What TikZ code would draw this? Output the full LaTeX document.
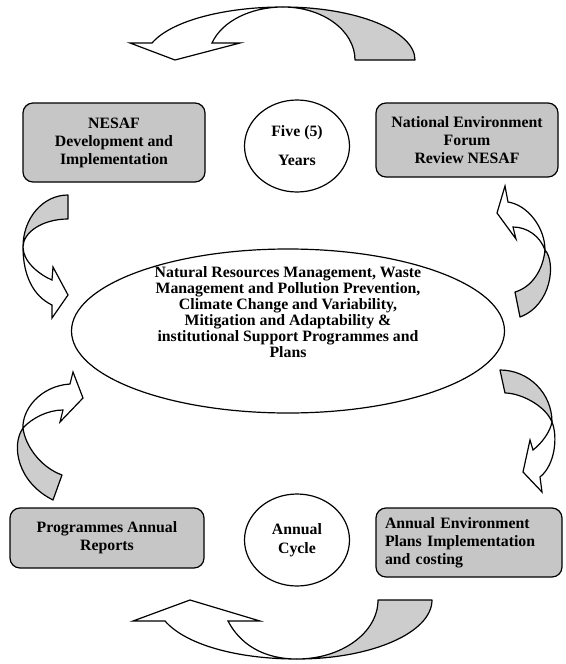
\documentclass[tikz,border=0pt]{standalone}
\usepackage{fontspec}
\setmainfont{Liberation Serif}
\usetikzlibrary{shapes.geometric}
\definecolor{boxfill}{RGB}{198,198,198}
\definecolor{ribbon}{RGB}{205,205,205}
\tikzset{
  outline/.style={draw=black, line width=1.2pt},
  stagebox/.style={outline, rounded corners=10pt, fill=boxfill, align=center,
    inner sep=0pt, font=\bfseries\fontsize{15.8}{18}\selectfont},
  period/.style={outline, ellipse, fill=white, align=center, inner sep=0pt,
    minimum width=105pt, minimum height=92pt,
    font=\bfseries\fontsize{15.8}{18}\selectfont},
  hub/.style={outline, ellipse, fill=white, inner sep=0pt,
    minimum width=433pt, minimum height=164pt},
  hubtext/.style={align=center, inner sep=0pt,
    font=\bfseries\fontsize{15.8}{16}\selectfont},
  ribbonback/.style={outline, fill=ribbon, line join=round},
  ribbonfront/.style={outline, fill=white, line join=miter},
}
\begin{document}
\begin{tikzpicture}[x=1pt, y=-1pt]
\useasboundingbox (0,0) rectangle (565,664);

% ---- curved arrows of the cycle ----
% top: from the review box back over to the development box
\path[ribbonback] (415,60) .. controls (415,30.7) and (355.9,7) .. (283,7)
  .. controls (322.8,7) and (355,30.7) .. (355,60) -- cycle;
\path[ribbonfront] (283,7) .. controls (226.6,7) and (172,20) .. (152,43)
  -- (130,43) -- (175,60) -- (240,43) -- (212,43)
  .. controls (222,21) and (251,7) .. (283,7) -- cycle;

% bottom: from the implementation box over to the reports box
\path[ribbonback] (378,600) -- (432,600) .. controls (432,632.6) and (371.6,659) .. (297,659)
  .. controls (341.7,659) and (378,632.6) .. (378,600) -- cycle;
\path[ribbonfront] (297,659) .. controls (238,659) and (186,645) .. (165,621)
  -- (133,621) -- (190,600) -- (260,621) -- (228,621)
  .. controls (240,644) and (263,659) .. (297,659) -- cycle;

% left, upper: development box down into the programmes
\path[ribbonback] (68,195) .. controls (43,195) and (23,218) .. (23,247)
  .. controls (23,232) and (43,219) .. (68,219) -- cycle;
\path[ribbonfront] (23,247) .. controls (23,275) and (33,296) .. (52,305)
  -- (52,318) -- (68,295) -- (53,267) -- (52,280)
  .. controls (40,275) and (23,262) .. (23,247) -- cycle;

% left, lower: reports up into the programmes
\path[ribbonback] (23,428) .. controls (11,445) and (17,482) .. (53,500)
  -- (62,475) .. controls (40,467) and (25,445) .. (23,428) -- cycle;
\path[ribbonfront] (23,428) .. controls (22,410) and (40,386) .. (70,384)
  -- (73,372) -- (83,398) -- (60,422) -- (63,410)
  .. controls (48,410) and (32,418) .. (23,428) -- cycle;

% right, upper: programmes up to the review box
\path[ribbonback] (545,250) .. controls (556,262) and (552,305) .. (520,317)
  -- (515,292) .. controls (532,287) and (543,270) .. (545,250) -- cycle;
\path[ribbonfront] (545,250) .. controls (545,228) and (528,205) .. (508,202)
  -- (505,186) -- (497,213) -- (516,239) -- (513,227)
  .. controls (527,227) and (540,236) .. (545,250) -- cycle;

% right, lower: programmes down to the annual plans
\path[ribbonback] (500,370) .. controls (528.7,370) and (552,393.3) .. (552,422)
  .. controls (545,405) and (520,393) .. (505,393) -- cycle;
\path[ribbonfront] (552,422) .. controls (558,437) and (555,465) .. (540,477)
  -- (542,492) -- (523,472) -- (530,440) -- (533,450)
  .. controls (542,443) and (550,432) .. (552,422) -- cycle;

% ---- stages ----
\node[stagebox, minimum width=182pt, minimum height=79pt] (nesaf) at (114,142.5)
  {NESAF\\Development and\\Implementation};
\node[stagebox, minimum width=182pt, minimum height=74pt] (forum) at (467,140)
  {National Environment\\Forum\\Review NESAF};
\node[stagebox, minimum width=194pt, minimum height=60pt] (reports) at (107,538)
  {Programmes Annual\\Reports};
\node[stagebox, minimum width=186pt, minimum height=69pt, text width=168pt, align=left]
  (plans) at (469,542.5) {Annual Environment\\Plans Implementation\\and costing};

% ---- cycle lengths ----
\node[period] (five) at (297,146) {Five (5)\\[11pt]Years};
\node[period] (annual) at (297,540) {Annual\\[1pt]Cycle};

% ---- programme areas ----
\node[hub] (hub) at (288,331) {};
\node[hubtext] (hubtext) at (288,312)
  {Natural Resources Management, Waste\\
   Management and Pollution Prevention,\\
   Climate Change and Variability,\\
   Mitigation and Adaptability \&\\
   institutional Support Programmes and\\
   Plans};
\end{tikzpicture}
\end{document}
